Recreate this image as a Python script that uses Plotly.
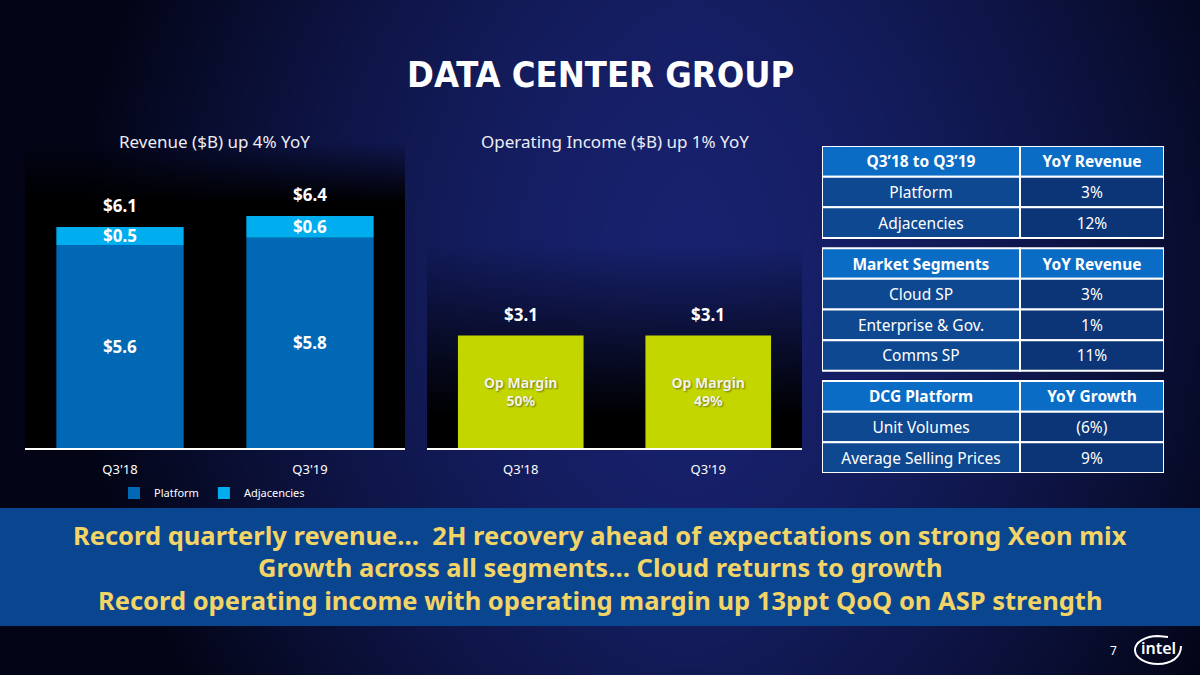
import base64
import struct
import zlib

import numpy as np
import plotly.graph_objects as go

# === Data ===
QUARTERS = ["Q3'18", "Q3'19"]
PLATFORM_REV = [5.6, 5.8]
ADJACENCY_REV = [0.5, 0.6]
TOTAL_REV = [6.1, 6.4]
OP_INCOME = [3.1, 3.1]
OP_MARGIN = ["50%", "49%"]

REV_HEAD = ["Q3’18 to Q3’19", "YoY Revenue"]
REV_ROWS = ["Platform", "Adjacencies"]
REV_YOY = ["3%", "12%"]

SEG_HEAD = ["Market Segments", "YoY Revenue"]
SEG_ROWS = ["Cloud SP", "Enterprise & Gov.", "Comms SP"]
SEG_YOY = ["3%", "1%", "11%"]

PLAT_HEAD = ["DCG Platform", "YoY Growth"]
PLAT_ROWS = ["Unit Volumes", "Average Selling Prices"]
PLAT_YOY = ["(6%)", "9%"]

TAKEAWAYS = [
    "Record quarterly revenue…  2H recovery ahead of expectations on strong Xeon mix",
    "Growth across all segments… Cloud returns to growth",
    "Record operating income with operating margin up 13ppt QoQ on ASP strength",
]

# === Style ===
W, H = 1200, 675
FONT = "Noto Sans"
TITLE_FONT = "DejaVu Sans Condensed, DejaVu Sans, sans-serif"
BLUE = "#0068b5"
CYAN = "#00aeef"
LIME = "#c4d600"
HEAD_BLUE = "#0a6cc4"
CELL_LEFT = "#0e4891"
CELL_RIGHT = "#0b3577"
YELLOW = "#f3d466"
COL_W = [198, 144]


def px(x):
    return x / W


def py(y):
    return 1 - y / H


def png_uri(rgba):
    h, w, _ = rgba.shape
    raw = b"".join(b"\x00" + rgba[i].tobytes() for i in range(h))

    def chunk(tag, data):
        return (struct.pack(">I", len(data)) + tag + data
                + struct.pack(">I", zlib.crc32(tag + data) & 0xFFFFFFFF))

    ihdr = struct.pack(">IIBBBBB", w, h, 8, 6, 0, 0, 0)
    png = (b"\x89PNG\r\n\x1a\n" + chunk(b"IHDR", ihdr)
           + chunk(b"IDAT", zlib.compress(raw, 9)) + chunk(b"IEND", b""))
    return "data:image/png;base64," + base64.b64encode(png).decode()


def slide_background(w=400, h=225):
    # dark navy slide, brighter towards the middle
    X, Y = np.meshgrid(np.linspace(0, W, w), np.linspace(0, H, h))
    t = np.clip(np.abs(X - 690) / 620, 0, 1) ** 1.6
    t = np.clip(t + 0.3 * np.clip(np.abs(Y - 280) / 420, 0, 1) ** 2, 0, 1)
    center = np.array([24, 34, 110])
    edge = np.array([3, 5, 22])
    rgb = center * (1 - t[..., None]) + edge * t[..., None]
    rgba = np.dstack([rgb, np.full((h, w), 255)])
    return png_uri(rgba.astype(np.uint8))


def fade_to_black(start, end, h=80):
    s = np.linspace(0, 1, h)
    a = np.clip((s - start) / (end - start), 0, 1) * 255
    rgba = np.zeros((h, 2, 4))
    rgba[:, :, 3] = a[:, None]
    return png_uri(rgba.astype(np.uint8))


fig = go.Figure()

bar_text = dict(textposition="inside", insidetextanchor="middle",
                constraintext="none", textangle=0, hoverinfo="skip")

# Revenue stacked bars
fig.add_trace(go.Bar(
    x=QUARTERS, y=PLATFORM_REV, name="Platform",
    marker=dict(color=BLUE, line_width=0),
    text=[f"<b>${v:.1f}</b>" for v in PLATFORM_REV],
    textfont=dict(family=FONT, size=17, color="white"),
    xaxis="x", yaxis="y", **bar_text,
))
fig.add_trace(go.Bar(
    x=QUARTERS, y=ADJACENCY_REV, base=PLATFORM_REV, name="Adjacencies",
    marker=dict(color=CYAN, line_width=0),
    text=[f"<b>${v:.1f}</b>" for v in ADJACENCY_REV],
    textfont=dict(family=FONT, size=17, color="white"),
    xaxis="x", yaxis="y", **bar_text,
))

# Operating income bars
fig.add_trace(go.Bar(
    x=QUARTERS, y=OP_INCOME, showlegend=False,
    marker=dict(color=LIME, line_width=0),
    text=[f"<b>Op Margin<br>{m}</b>" for m in OP_MARGIN],
    textfont=dict(family=FONT, size=14, color="#f2f2e6",
                  shadow="1px 1px 2px rgba(0,0,0,0.45)"),
    xaxis="x2", yaxis="y2", **bar_text,
))

# value labels above the bars
for q, v in zip(QUARTERS, TOTAL_REV):
    fig.add_annotation(x=q, y=v, xref="x", yref="y", text=f"<b>${v:.1f}</b>",
                       showarrow=False, yanchor="bottom", yshift=8,
                       font=dict(family=FONT, size=17, color="white"))
for q, v in zip(QUARTERS, OP_INCOME):
    fig.add_annotation(x=q, y=v, xref="x2", yref="y2", text=f"<b>${v:.1f}</b>",
                       showarrow=False, yanchor="bottom", yshift=8,
                       font=dict(family=FONT, size=17, color="white"))


# Tables on the right, drawn as cells on a hidden axis pair (one row = 1 unit)
def add_table(head, rows, vals, top):
    n = len(rows) + 1
    ys = [top + i + 0.5 for i in range(n)]
    fig.add_trace(go.Bar(
        orientation="h", y=ys + ys,
        x=[COL_W[0]] * n + [COL_W[1]] * n,
        base=[0] * n + [COL_W[0]] * n,
        width=1,
        text=[f"<b>{head[0]}</b>"] + rows + [f"<b>{head[1]}</b>"] + vals,
        marker=dict(
            color=[HEAD_BLUE] + [CELL_LEFT] * len(rows)
            + [HEAD_BLUE] + [CELL_RIGHT] * len(rows),
            line=dict(color="white", width=2),
        ),
        textfont=dict(family=FONT, size=15.5, color="white"),
        showlegend=False, xaxis="x3", yaxis="y3", **bar_text,
    ))


GAP = 1 / 3
add_table(REV_HEAD, REV_ROWS, REV_YOY, 0)
add_table(SEG_HEAD, SEG_ROWS, SEG_YOY, 3 + GAP)
add_table(PLAT_HEAD, PLAT_ROWS, PLAT_YOY, 7 + 2 * GAP)
TABLE_UNITS = 10 + 2 * GAP

# Titles
center = dict(xref="paper", yref="paper", showarrow=False,
              xanchor="center", yanchor="middle")
fig.add_annotation(x=0.5, y=py(74), text="<b>DATA CENTER GROUP</b>",
                   font=dict(family=TITLE_FONT, size=36, color="white"), **center)
fig.add_annotation(x=px(214), y=py(142), text="Revenue ($B) up 4% YoY",
                   font=dict(family=FONT, size=17, color="#ecedf5"), **center)
fig.add_annotation(x=px(615), y=py(142), text="Operating Income ($B) up 1% YoY",
                   font=dict(family=FONT, size=17, color="#ecedf5"), **center)

# Bottom banner with takeaways
fig.add_shape(type="rect", xref="paper", yref="paper",
              x0=0, x1=1, y0=py(626), y1=py(508),
              fillcolor="#0a4690", line_width=0, layer="above")
for line, yc in zip(TAKEAWAYS, [535, 567, 600]):
    fig.add_annotation(x=0.5, y=py(yc), text=f"<b>{line}</b>",
                       font=dict(family=FONT, size=25.5, color=YELLOW), **center)

# Page number and logo
fig.add_annotation(x=px(1113), y=py(650), text="7",
                   font=dict(family=FONT, size=12, color="white"), **center)
fig.add_annotation(x=px(1158), y=py(648), text="intel",
                   font=dict(family=FONT, size=16, color="white", weight=600), **center)
cx, cy, rx, ry, k = 1158, 650, 23, 14, 0.5523
pts = [
    (cx + 10, cy - ry + 1),
    (cx - k * rx, cy - ry), (cx - rx, cy - k * ry), (cx - rx, cy),
    (cx - rx, cy + k * ry), (cx - k * rx, cy + ry), (cx, cy + ry),
    (cx + k * rx, cy + ry), (cx + rx, cy + k * ry), (cx + rx, cy - 4),
]
path = f"M {px(pts[0][0])},{py(pts[0][1])} L {px(cx)},{py(cy - ry)}"
for i in range(1, len(pts), 3):
    path += " C " + " ".join(f"{px(a)},{py(b)}" for a, b in pts[i:i + 3])
fig.add_shape(type="path", xref="paper", yref="paper", path=path,
              line=dict(color="white", width=2), layer="above")

# Background images
img = dict(xref="paper", yref="paper", sizing="stretch",
           xanchor="left", yanchor="top", layer="below")
fig.add_layout_image(source=slide_background(), x=0, y=1, sizex=1, sizey=1, **img)
fig.add_layout_image(source=fade_to_black(0.0, 0.2), x=px(25), y=py(140),
                     sizex=px(380), sizey=(448 - 140) / H, **img)
fig.add_layout_image(source=fade_to_black(0.3, 0.9), x=px(427), y=py(158),
                     sizex=px(375), sizey=(448 - 158) / H, **img)

axis_x = dict(showline=True, linecolor="white", linewidth=2, ticks="",
              showgrid=False, zeroline=False, ticklabelstandoff=8,
              tickfont=dict(family=FONT, size=13, color="white"))
axis_y = dict(visible=False, range=[0, 8], showgrid=False, zeroline=False,
              domain=[py(448), py(158)])

fig.update_layout(
    width=W, height=H,
    margin=dict(l=0, r=0, t=0, b=0),
    paper_bgcolor="#0b1040",
    plot_bgcolor="rgba(0,0,0,0)",
    barmode="overlay",
    bargap=0.33,
    xaxis=dict(axis_x, domain=[px(25), px(405)], anchor="y"),
    yaxis=dict(axis_y, anchor="x"),
    xaxis2=dict(axis_x, domain=[px(427), px(802)], anchor="y2"),
    yaxis2=dict(axis_y, anchor="x2"),
    xaxis3=dict(visible=False, range=[0, sum(COL_W)], fixedrange=True,
                domain=[px(822), px(1164)], anchor="y3"),
    yaxis3=dict(visible=False, range=[TABLE_UNITS, 0], fixedrange=True,
                domain=[py(473), py(146)], anchor="x3"),
    showlegend=True,
    legend=dict(orientation="h", x=px(212), xanchor="center",
                y=py(493), yanchor="middle", bgcolor="rgba(0,0,0,0)",
                font=dict(family=FONT, size=11, color="white"),
                itemwidth=30, traceorder="normal"),
    font=dict(family=FONT, color="white"),
)

fig.write_html(
    "out.html",
    config={"displayModeBar": False},
    post_script="document.body.style.margin='0';document.body.style.overflow='hidden';",
)
